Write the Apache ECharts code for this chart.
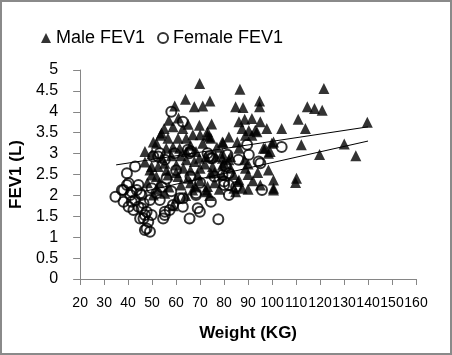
<!DOCTYPE html>
<html>
<head>
<meta charset="utf-8">
<script src="https://cdn.jsdelivr.net/npm/echarts@6/dist/echarts.min.js"></script>
<style>
  html, body { margin: 0; padding: 0; background: #fff; }
  #chart { width: 452px; height: 355px; }
</style>
</head>
<body>
<div id="chart"></div>
<script>
// [weight kg, FEV1 L]
const maleFev1 = [
  [59.4, 4.14], [63.9, 4.30], [69.8, 4.68], [67.6, 4.12], [71.1, 4.14], [74.1, 4.26],
  [86.6, 4.54], [84.8, 4.12], [87.9, 4.10], [94.8, 4.26], [94.8, 4.12], [114.7, 4.12],
  [117.7, 4.08], [120.9, 4.04], [121.6, 4.56], [110.9, 3.82], [139.7, 3.75], [74.8, 3.71],
  [86.2, 3.76], [88.6, 3.82], [91.6, 3.84], [95.1, 3.76], [97.8, 3.60], [104, 3.60],
  [113.9, 3.60], [87.5, 3.60], [90.3, 3.55], [93, 3.56], [73.1, 3.52], [73.8, 3.40],
  [79.6, 3.26], [85.5, 3.28], [88.9, 3.44], [91.6, 3.44], [93.7, 3.52], [99.9, 3.25],
  [97.1, 3.13], [112.2, 3.21], [130.1, 3.23], [119.8, 2.98], [134.9, 2.95], [98.5, 3.01],
  [98.5, 2.61], [88.9, 2.65], [82.7, 2.65], [85.9, 2.33], [84.1, 2.17], [84.8, 2.09],
  [95.1, 2.25], [100.6, 2.37], [100.6, 2.17], [109.8, 2.31], [73.1, 2.21], [72.7, 2.09],
  [76.5, 2.93], [79.3, 2.89], [82.7, 2.93], [80, 2.77], [88.5, 2.85], [90, 2.75],
  [79.3, 2.49], [69.7, 3.68], [58.7, 3.64], [62.8, 3.60], [73.1, 3.44], [74.5, 3.37],
  [53.5, 3.44], [56.6, 3.37], [60.8, 3.37], [64.2, 3.37], [71.1, 3.25], [79.3, 3.28],
  [51.8, 3.25], [55.9, 3.13], [58.7, 3.16], [61.5, 3.13], [64.2, 3.05], [68.3, 3.05],
  [69.7, 2.89], [72.4, 2.93], [79.3, 3.01], [52.5, 2.69], [55.3, 2.77], [60.1, 2.73],
  [64.2, 2.85], [67.6, 2.81], [75.2, 2.69], [79.3, 2.73], [82, 2.85], [51.8, 2.45],
  [56.6, 2.49], [60.8, 2.45], [64.9, 2.41], [69, 2.49], [74.5, 2.53], [86.2, 3.13],
  [96.4, 3.13], [99.2, 3.05], [100.6, 3.28], [110.2, 2.41], [100.6, 2.13], [86.2, 2.37],
  [87.5, 2.17], [72.4, 2.13], [50.5, 2.01], [55.3, 2.05], [60.1, 1.93], [66.9, 2.13],
  [58.7, 1.75], [53.9, 3.49], [50.5, 3.28], [49.8, 2.69], [49.8, 2.49], [49.1, 2.61],
  [53, 2.3], [57, 2.2], [62, 2.25], [66, 2.3], [70, 2.35], [76, 2.3], [54, 2.9],
  [58, 2.95], [62, 2.95], [66, 2.6], [70, 2.65], [72, 2.75], [76, 2.55], [56, 2.6],
  [60, 2.55], [63, 2.65], [68, 2.2], [74, 2.0], [78, 2.15], [64, 2.0], [52, 2.15],
  [48, 2.3], [47, 2.8], [47, 3.05], [50, 3.0], [66, 3.2], [84, 2.5], [90, 2.5],
  [92, 2.35], [90, 2.15], [94, 2.55], [77, 3.15], [82, 3.4], [57, 3.8], [55, 3.6],
  [61, 3.85], [65, 3.7], [70, 3.45], [67, 3.45]
];
const femaleFev1 = [
  [58, 4.0], [62.8, 3.76], [52.5, 2.93], [42.9, 2.69], [39.5, 2.53], [73.8, 2.93],
  [64.9, 3.09], [66.2, 3.05], [74.5, 2.89], [104, 3.16], [89.6, 3.21], [90.3, 2.97],
  [95.1, 2.77], [81.4, 2.97], [80.7, 2.69], [82, 2.53], [80, 2.25], [82, 2.25],
  [82, 2.01], [95.8, 2.13], [74.5, 1.85], [62.8, 1.93], [62.8, 1.73], [68.3, 2.05],
  [65.6, 1.45], [69, 1.69], [69.9, 1.61], [77.6, 1.43], [94.4, 2.81], [34.7, 1.97],
  [38.1, 2.13], [40.2, 2.29], [41.5, 2.09], [44.3, 2.25], [45, 2.05], [42.9, 1.89],
  [38.1, 1.85], [40.2, 1.73], [42.2, 1.65], [44.3, 1.73], [46.4, 1.81], [47.7, 1.61],
  [49.1, 1.89], [46.4, 1.45], [48.4, 1.37], [49.8, 1.53], [47, 1.17], [49.1, 1.13],
  [49.8, 2.17], [51.8, 2.05], [54.6, 1.45], [55.3, 1.53], [61.5, 1.93], [37.4, 2.13],
  [39.5, 2.25], [40.9, 2.01], [43.6, 2.13], [45.6, 2.01], [41.5, 1.85], [45.6, 1.69],
  [47, 1.53], [45, 1.45], [47.7, 1.21], [53.2, 1.89], [55.3, 1.61], [57.3, 1.65],
  [58.7, 1.77], [68.3, 2.01], [80, 2.33], [79.3, 2.49], [50.5, 2.93], [53.2, 3.01],
  [55.3, 2.85], [59.4, 3.01], [65.6, 3.01], [73.1, 3.01], [75.2, 2.89], [56, 2.4],
  [60, 2.6], [66, 2.45], [70, 2.3], [54, 2.2], [58, 2.1], [76, 2.45], [86, 2.85], [85, 2.2]
];
// trend line end points
const upperTrend = [[35, 2.73], [140, 3.64]];
const lowerTrend = [[47, 2.10], [140, 3.30]];

const axisGray = '#868686';
const chart = echarts.init(document.getElementById('chart'));
chart.setOption({
  animation: false,
  textStyle: { fontFamily: 'Liberation Sans, Arial, sans-serif', color: '#000' },
  graphic: [{
    type: 'rect',
    shape: { x: 1, y: 1, width: 450, height: 353 },
    style: { fill: 'none', stroke: '#8a8a8a', lineWidth: 2 },
    silent: true,
  }],
  legend: {
    left: 36,
    top: 24,
    itemWidth: 10,
    itemHeight: 10,
    itemGap: 12,
    textStyle: { fontSize: 18, color: '#000' },
    data: [
      { name: 'Male FEV1', icon: 'triangle' },
      { name: 'Female FEV1', icon: 'circle' },
    ],
  },
  grid: { left: 76, right: 36, top: 70, bottom: 76 },
  xAxis: {
    type: 'value',
    min: 20,
    max: 160,
    interval: 10,
    name: 'Weight (KG)',
    nameLocation: 'middle',
    nameGap: 46,
    nameTextStyle: { fontSize: 17, fontWeight: 'bold', color: '#000' },
    axisLine: { show: true, lineStyle: { color: axisGray } },
    axisTick: { show: true, length: 6, lineStyle: { color: axisGray } },
    axisLabel: {
      margin: 17,
      fontSize: 14,
      color: '#000',
      showMinLabel: true,
      showMaxLabel: true,
    },
    splitLine: { show: false },
  },
  yAxis: {
    type: 'value',
    min: 0,
    max: 5,
    interval: 0.5,
    name: 'FEV1 (L)',
    nameLocation: 'middle',
    nameGap: 54,
    nameTextStyle: { fontSize: 17, fontWeight: 'bold', color: '#000' },
    axisLine: { show: true, lineStyle: { color: axisGray } },
    axisTick: { show: true, length: 7, lineStyle: { color: axisGray } },
    axisLabel: { margin: 22, fontSize: 16, color: '#000' },
    splitLine: { show: false },
  },
  series: [
    {
      name: 'Male FEV1',
      type: 'scatter',
      symbol: 'triangle',
      symbolSize: 11,
      itemStyle: { color: '#000' },
      data: maleFev1,
    },
    {
      name: 'Female FEV1',
      type: 'scatter',
      symbol: 'circle',
      symbolSize: 10,
      itemStyle: { color: 'rgba(255,255,255,0)', borderColor: '#000', borderWidth: 2 },
      data: femaleFev1,
    },
    {
      type: 'line',
      symbol: 'none',
      silent: true,
      lineStyle: { color: '#000', width: 1 },
      data: upperTrend,
    },
    {
      type: 'line',
      symbol: 'none',
      silent: true,
      lineStyle: { color: '#000', width: 1 },
      data: lowerTrend,
    },
  ],
});
</script>
</body>
</html>
